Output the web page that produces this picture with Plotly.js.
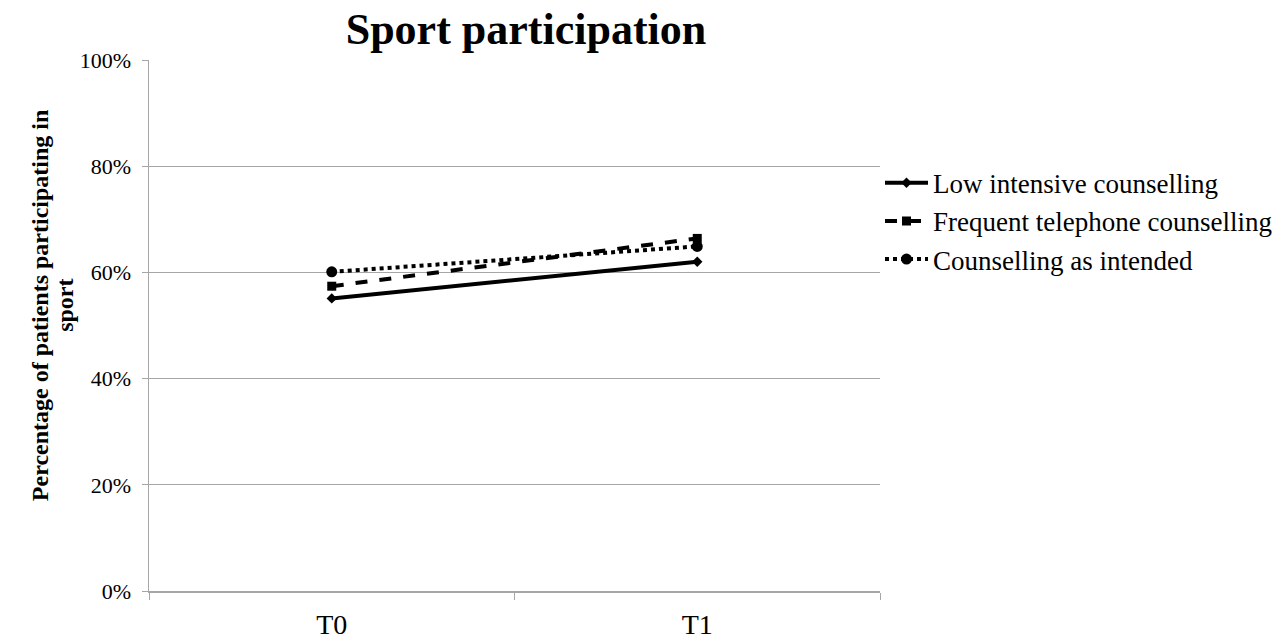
<!DOCTYPE html>
<html>
<head>
<meta charset="utf-8">
<script src="https://cdn.plot.ly/plotly-3.0.1.min.js"></script>
<style>html,body{margin:0;padding:0;background:#fff;}#chart{width:1276px;height:642px;}</style>
</head>
<body>
<div id="chart"></div>
<script>
const categories = ["T0", "T1"];
const seriesNames = ["Low intensive counselling", "Frequent telephone counselling", "Counselling as intended"];
const lowIntensive = [55.1, 62.0];
const frequentTelephone = [57.4, 66.4];
const asIntended = [60.1, 64.9];
const yTickVals = [0, 20, 40, 60, 80, 100];
const yTickText = ["0%", "20%", "40%", "60%", "80%", "100%"];
const yTitleLines = ["Percentage of patients participating in", "sport"];

const serif = "Liberation Serif, Times New Roman, serif";

const traces = [
  {x: categories, y: lowIntensive, name: seriesNames[0], type: "scatter", mode: "lines+markers",
   line: {color: "#000", width: 4, dash: "solid"}, marker: {symbol: "diamond", size: 8, color: "#000"}},
  {x: categories, y: frequentTelephone, name: seriesNames[1], type: "scatter", mode: "lines+markers",
   line: {color: "#000", width: 4, dash: "dash"}, marker: {symbol: "square", size: 9, color: "#000"}},
  {x: categories, y: asIntended, name: seriesNames[2], type: "scatter", mode: "lines+markers",
   line: {color: "#000", width: 4, dash: "dot"}, marker: {symbol: "circle", size: 11, color: "#000"}}
];

const layout = {
  width: 1276, height: 642,
  paper_bgcolor: "#fff", plot_bgcolor: "#fff",
  margin: {l: 149, r: 396, t: 60, b: 51, pad: 0, autoexpand: false},
  title: {text: "<b>Sport participation</b>", font: {family: serif, size: 44, color: "#000"},
          x: 0.4122, xanchor: "center", y: 0.955, yanchor: "middle"},
  showlegend: true,
  legend: {x: 1.0, xanchor: "left", y: 0.814, yanchor: "top", font: {family: serif, size: 27, color: "#000"},
           bgcolor: "rgba(0,0,0,0)", tracegroupgap: 0, itemwidth: 43},
  xaxis: {type: "category", range: [-0.5, 1.5], tickson: "boundaries", ticks: "outside", ticklen: 7,
          tickcolor: "#a6a6a6", showline: true, linecolor: "#a6a6a6", linewidth: 1.5, showgrid: false,
          zeroline: false, tickfont: {family: serif, size: 28, color: "#000"}, ticklabelstandoff: 8, fixedrange: true},
  yaxis: {range: [0, 100], tickvals: yTickVals, ticktext: yTickText, ticks: "outside", ticklen: 6,
          tickcolor: "#a6a6a6", showline: true, linecolor: "#a6a6a6", linewidth: 1.5, showgrid: true,
          gridcolor: "#a6a6a6", gridwidth: 1, zeroline: false, ticklabelstandoff: 6,
          tickfont: {family: serif, size: 22, color: "#000"},
          fixedrange: true},
  annotations: [
    {text: "<b>" + yTitleLines[0] + "</b>", xref: "paper", yref: "paper", x: -0.149, y: 0.5385,
     xanchor: "center", yanchor: "middle", textangle: -90, showarrow: false,
     font: {family: serif, size: 24, color: "#000"}},
    {text: "<b>" + yTitleLines[1] + "</b>", xref: "paper", yref: "paper", x: -0.1152, y: 0.5385,
     xanchor: "center", yanchor: "middle", textangle: -90, showarrow: false,
     font: {family: serif, size: 24, color: "#000"}}
  ]
};

Plotly.newPlot("chart", traces, layout, {displayModeBar: false, staticPlot: true});
</script>
</body>
</html>
